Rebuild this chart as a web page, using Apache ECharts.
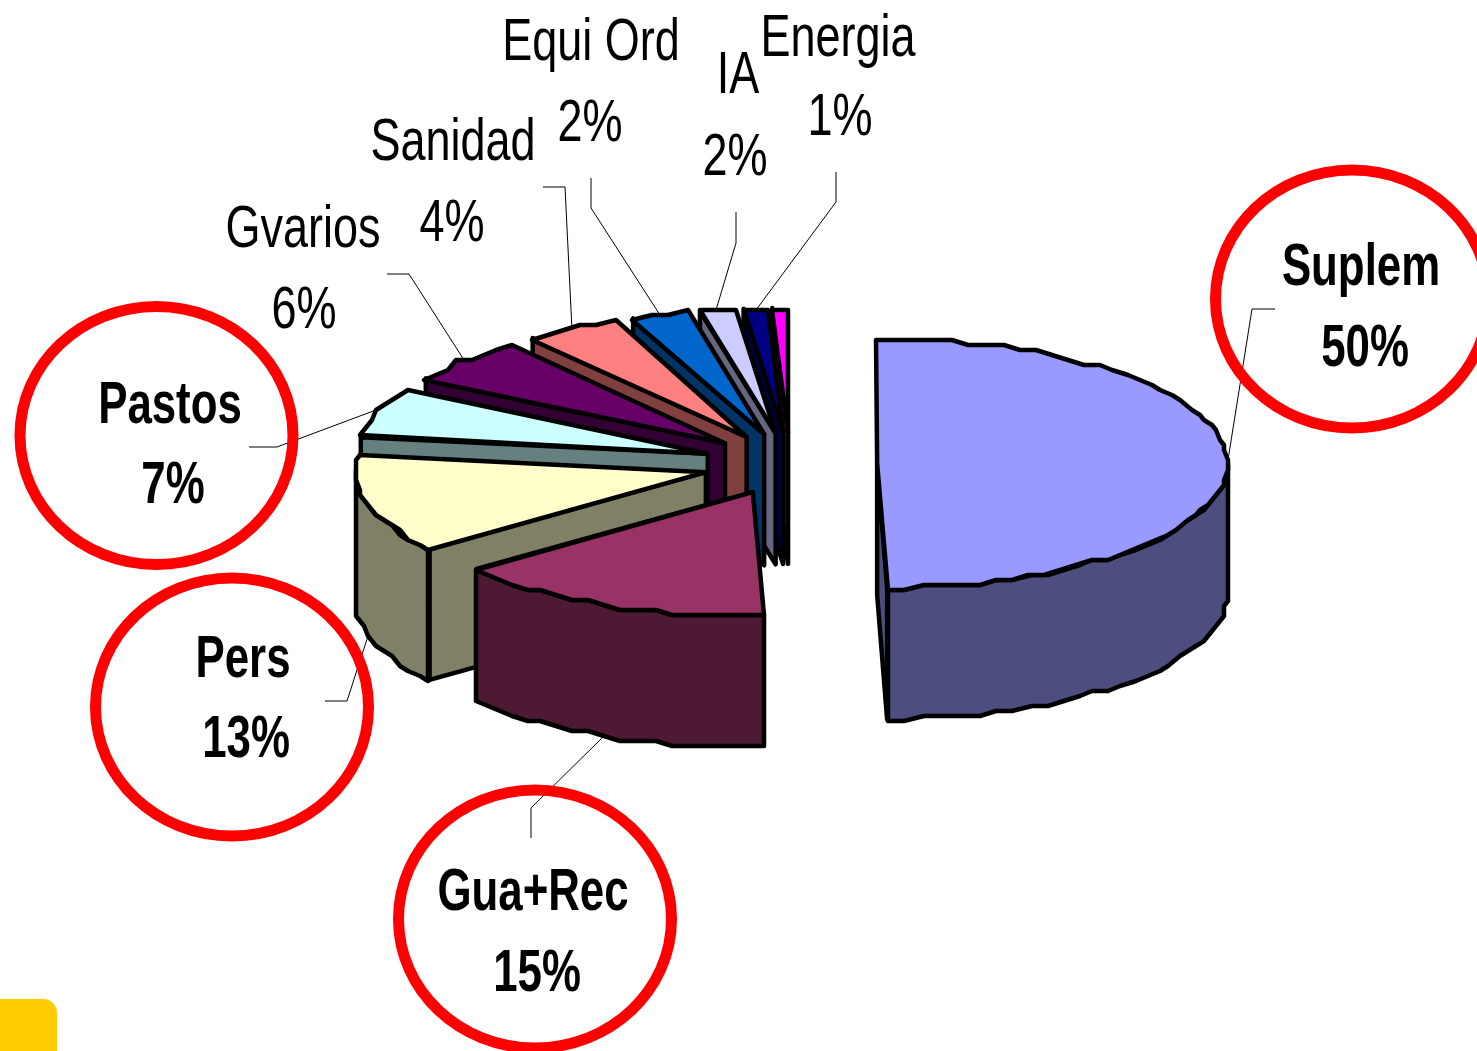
<!DOCTYPE html>
<html>
<head>
<meta charset="utf-8">
<title>Costes</title>
<style>
  html, body { margin: 0; padding: 0; background: #fff; }
  #chart { width: 1477px; height: 1051px; }
</style>
<script src="https://cdn.jsdelivr.net/npm/echarts@6/dist/echarts.min.js"></script>
</head>
<body>
<div id="chart"></div>
<script>
// clockwise from 12 o'clock, last slice has no label in the picture
var categories = ['Suplem', 'Gua+Rec', 'Pers', 'Pastos', 'Gvarios', 'Sanidad', 'Equi Ord', 'IA', 'Energia', ''];
var values = [49.55, 14.94, 12.6, 6.6, 5.85, 4.36, 2.64, 1.67, 1.08, 0.72];
var percentLabels = ['50%', '15%', '13%', '7%', '6%', '4%', '2%', '2%', '1%', ''];
var circled = ['Suplem', 'Gua+Rec', 'Pers', 'Pastos'];

var topColors = ['#9999FF', '#993366', '#FFFFCC', '#CCFFFF', '#660066', '#FF8080', '#0066CC', '#CCCCFF', '#000080', '#FF00FF'];
var sideColors = ['#4D4D80', '#4D1933', '#808066', '#668080', '#330033', '#804040', '#003366', '#666680', '#000040', '#800080'];

// pie layout
var cx = 790, cy = 464, rx = 350, ry = 125, depth = 131, explode = 0.249;

// label name xy, percent xy, leader start, leader elbow
var labelLayout = [
  [1361, 268, 1365, 349, 1275, 309, 1252, 309],
  [533, 893, 537, 974, 531, 838, 531, 808],
  [243, 660, 246, 740, 325, 701, 347, 701],
  [170, 406, 173, 486, 249, 447, 277, 447],
  [303, 230, 304, 311, 387, 274, 409, 274],
  [453, 143, 452, 224, 543, 187, 565, 187],
  [591, 43, 590, 124, 591, 178, 591, 208],
  [738, 76, 735, 158, 736, 212, 736, 243],
  [838, 39, 840, 118, 836, 172, 836, 202]
];
var ringLayout = { 'Suplem': [1352, 299], 'Gua+Rec': [535, 919], 'Pers': [232, 707], 'Pastos': [156.5, 435.5] };

var total = values.reduce(function (a, b) { return a + b; }, 0);
var startAngles = [];
var acc = 0;
values.forEach(function (v) {
  startAngles.push(acc / total * 360);
  acc += v;
});

function rad(d) { return d * Math.PI / 180; }

function apexOf(i) {
  var mid = startAngles[i] + values[i] / total * 180;
  return [cx + explode * rx * Math.sin(rad(mid)), cy - explode * ry * Math.cos(rad(mid))];
}

// the original outline is stepped, so snap the rim to a coarse grid
function rimPoint(apex, deg) {
  var x = apex[0] + rx * Math.sin(rad(deg));
  var y = apex[1] - ry * Math.cos(rad(deg));
  return [Math.round(x / 4) * 4, Math.round(y / 5) * 5];
}

function arcPoints(apex, from, to) {
  var pts = [];
  var n = Math.max(1, Math.round((to - from) / 3));
  for (var k = 0; k <= n; k++) {
    pts.push(rimPoint(apex, from + (to - from) * k / n));
  }
  return pts;
}

function down(p) { return [p[0], p[1] + depth]; }

function poly(points, fill, z2) {
  return {
    type: 'polygon',
    z2: z2,
    shape: { points: points },
    style: { fill: fill, stroke: '#000', lineWidth: 4.5, lineJoin: 'round' }
  };
}

function renderSlice(params, api) {
  var i = params.dataIndex;
  var size = api.value(1) / total * 360;
  var a = startAngles[i], b = a + size;
  var apex = apexOf(i);
  var base = (values.length - i) * 10;
  var kids = [];
  // radial cut face turned towards the viewer
  var edge = a >= 180 ? a : b;
  var r = [apex[0] + rx * Math.sin(rad(edge)), apex[1] - ry * Math.cos(rad(edge))];
  kids.push(poly([apex, r, down(r), down(apex)], sideColors[i], base));
  // outer wall, front half only
  var wa = Math.max(a, 90), wb = Math.min(b, 270);
  if (wb > wa) {
    var arc = arcPoints(apex, wa, wb);
    kids.push(poly(arc.concat(arc.map(down).reverse()), sideColors[i], base + 1));
  }
  kids.push(poly([apex].concat(arcPoints(apex, a, b)), topColors[i], base + 2));
  return { type: 'group', children: kids };
}

function textEl(str, x, y, bold, sx) {
  return {
    type: 'text',
    x: x,
    y: y,
    scaleX: sx,
    z: 20,
    style: {
      text: str,
      fill: '#000',
      font: (bold ? 'bold ' : '') + '60px "Liberation Sans"',
      align: 'center',
      verticalAlign: 'middle'
    }
  };
}

var graphics = [{
  type: 'rect',
  shape: { x: -20, y: 999, width: 77, height: 80, r: 14 },
  style: { fill: '#FFCC00' }
}];

labelLayout.forEach(function (l, i) {
  var bold = circled.indexOf(categories[i]) >= 0;
  var mid = startAngles[i] + values[i] / total * 180;
  var end = rimPoint(apexOf(i), mid);
  if (mid > 90 && mid < 270) end = down(end);
  graphics.push({
    type: 'polyline',
    z: 5,
    shape: { points: [[l[4], l[5]], [l[6], l[7]], end] },
    style: { stroke: '#000', lineWidth: 1, fill: null }
  });
  graphics.push(textEl(categories[i], l[0], l[1], bold, bold ? 0.73 : 0.75));
  graphics.push(textEl(percentLabels[i], l[2], l[3], bold, bold ? 0.73 : 0.75));
});

circled.forEach(function (name) {
  graphics.push({
    type: 'ellipse',
    z: 15,
    shape: { cx: ringLayout[name][0], cy: ringLayout[name][1], rx: 136.5, ry: 129 },
    style: { fill: null, stroke: '#FF0000', lineWidth: 11 }
  });
});

var chart = echarts.init(document.getElementById('chart'));
chart.setOption({
  backgroundColor: '#FFFFFF',
  animation: false,
  graphic: { elements: graphics },
  series: [{
    type: 'custom',
    coordinateSystem: 'none',
    z: 10,
    renderItem: renderSlice,
    encode: { value: 1 },
    data: values.map(function (v, i) { return [i, v, categories[i]]; })
  }]
});
</script>
</body>
</html>
